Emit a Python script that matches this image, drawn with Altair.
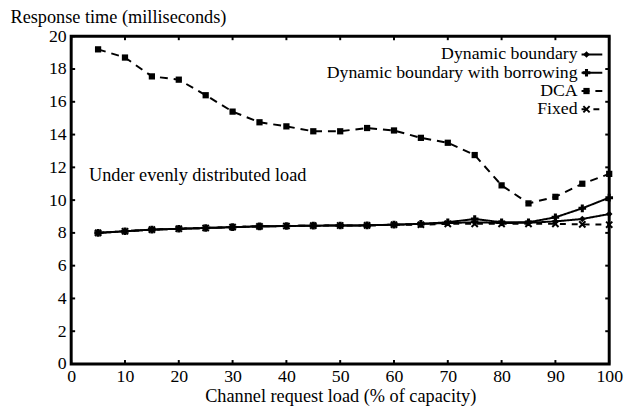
import altair as alt
import pandas as pd

load = [5, 10, 15, 20, 25, 30, 35, 40, 45, 50, 55, 60, 65, 70, 75, 80, 85, 90, 95, 100]
dyn = [8.0, 8.1, 8.2, 8.25, 8.3, 8.35, 8.4, 8.42, 8.44, 8.45, 8.46, 8.5, 8.55, 8.6, 8.65, 8.6, 8.62, 8.7, 8.85, 9.15]
dyn_borrow = [8.0, 8.1, 8.2, 8.25, 8.3, 8.35, 8.4, 8.42, 8.44, 8.45, 8.46, 8.5, 8.55, 8.65, 8.85, 8.65, 8.65, 8.95, 9.5, 10.15]
dca = [19.2, 18.7, 17.55, 17.35, 16.4, 15.4, 14.75, 14.5, 14.2, 14.2, 14.4, 14.25, 13.8, 13.5, 12.75, 10.9, 9.8, 10.2, 11.0, 11.6]
fixed = [8.0, 8.1, 8.2, 8.25, 8.3, 8.35, 8.4, 8.42, 8.44, 8.45, 8.46, 8.5, 8.5, 8.55, 8.55, 8.55, 8.55, 8.55, 8.52, 8.5]

series_names = ["Dynamic boundary", "Dynamic boundary with borrowing", "DCA", "Fixed"]
series_values = [dyn, dyn_borrow, dca, fixed]
x_ticks = list(range(0, 101, 10))
y_ticks = list(range(0, 21, 2))
annotation = "Under evenly distributed load"

FONT = "Liberation Serif"
FS = 18.5
LEG_FS = 18
W, H = 545, 332
X_SHAPE = "M-1,-1L1,1M1,-1L-1,1"

styles = {
    "Dynamic boundary": dict(dash=[1, 0], shape="diamond", filled=True, size=45),
    "Dynamic boundary with borrowing": dict(dash=[1, 0], shape="cross", filled=True, size=60),
    "DCA": dict(dash=[8, 6], shape="square", filled=True, size=40),
    "Fixed": dict(dash=[6, 6], shape=X_SHAPE, filled=False, size=40),
}

axis_font = dict(labelFont=FONT, labelFontSize=18, labelColor="black",
                 titleFont=FONT, titleFontWeight="normal", titleColor="black")

xenc = alt.X("load:Q", scale=alt.Scale(domain=[0, 100], nice=False),
             axis=alt.Axis(values=x_ticks, title="Channel request load  (% of capacity)",
                           ticks=False, domain=False, grid=False, labelPadding=4,
                           titlePadding=1, titleFontSize=18.5, labelFlush=False, **axis_font))
yenc = alt.Y("rt:Q", scale=alt.Scale(domain=[0, 20], nice=False),
             axis=alt.Axis(values=y_ticks, title="Response time (milliseconds)",
                           ticks=False, domain=False, grid=False, labelPadding=5,
                           titleAngle=0, titleAlign="left", titleX=-62, titleY=-14,
                           titleFontSize=18.5,
                           titleBaseline="alphabetic", labelFlush=False, **axis_font))

layers = []
for name, vals in zip(series_names, series_values):
    st = styles[name]
    d = pd.DataFrame({"load": load, "rt": vals, "series": name})
    base = alt.Chart(d).encode(x=xenc, y=yenc)
    layers.append(base.mark_line(color="black", strokeWidth=2, strokeDash=st["dash"]))
    layers.append(base.mark_point(shape=st["shape"], filled=st["filled"], color="black",
                                  size=st["size"], opacity=1,
                                  strokeWidth=2 if not st["filled"] else 1))

# inward ticks
xt = pd.DataFrame({"load": x_ticks})
yt = pd.DataFrame({"rt": y_ticks})
for y0, y1 in [(H, H - 4), (0, 4)]:
    layers.append(alt.Chart(xt).mark_rule(color="black", strokeWidth=2).encode(
        x=xenc, y=alt.value(y0), y2=alt.value(y1)))
for x0, x1 in [(0, 4), (W, W - 4)]:
    layers.append(alt.Chart(yt).mark_rule(color="black", strokeWidth=2).encode(
        y=yenc, x=alt.value(x0), x2=alt.value(x1)))

# annotation
layers.append(alt.Chart(pd.DataFrame({"t": [annotation]})).mark_text(
    align="left", baseline="middle", font=FONT, fontSize=FS, color="black").encode(
    text="t:N", x=alt.value(18), y=alt.value(141)))

# custom legend (labels on the left, samples on the right)
leg_y = [18.5, 37, 55.5, 74]
for name, ly in zip(series_names, leg_y):
    st = styles[name]
    ld = pd.DataFrame({"name": [name]})
    layers.append(alt.Chart(ld).mark_text(align="right", baseline="middle", font=FONT,
                                          fontSize=LEG_FS, color="black").encode(
        text="name:N", x=alt.value(513), y=alt.value(ly)))
    layers.append(alt.Chart(ld).mark_rule(color="black", strokeWidth=2,
                                          strokeDash=st["dash"]).encode(
        x=alt.value(517), x2=alt.value(538), y=alt.value(ly)))
    layers.append(alt.Chart(ld).mark_point(shape=st["shape"], filled=st["filled"], color="black",
                                           size=st["size"], opacity=1,
                                           strokeWidth=2 if not st["filled"] else 1).encode(
        x=alt.value(522), y=alt.value(ly)))

chart = alt.layer(*layers).properties(
    width=W, height=H,
    background="white",
    autosize=alt.AutoSizeParams(type="none"),
    padding={"left": 64, "top": 26, "right": 16, "bottom": 44},
).configure_view(stroke="black", strokeWidth=3)

chart.save("out.html", embed_options={"renderer": "svg", "actions": False})
